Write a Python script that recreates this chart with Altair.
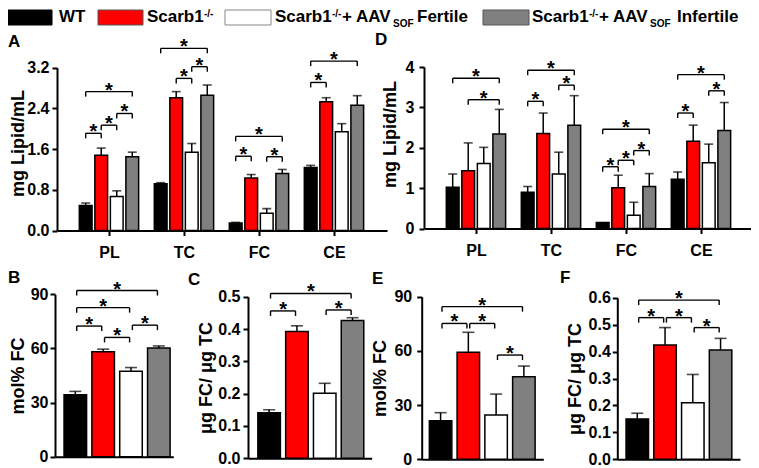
import altair as alt
import pandas as pd

FONT = "Liberation Sans"

# ---------------- data ----------------
GROUPS = ["PL", "TC", "FC", "CE"]
SERIES = ["WT", "Scarb1-/-", "Scarb1-/- + AAV-SOF Fertile", "Scarb1-/- + AAV-SOF Infertile"]
COLORS = ["#000000", "#ff0000", "#ffffff", "#808080"]

# Panel A: mg lipid / mL, rows = GROUPS, columns = SERIES
A_MEAN = [[0.49, 1.48, 0.67, 1.45],
          [0.92, 2.61, 1.54, 2.66],
          [0.145, 1.03, 0.34, 1.12],
          [1.24, 2.53, 1.94, 2.46]]
A_SEM = [[0.05, 0.14, 0.11, 0.09],
         [0.02, 0.12, 0.17, 0.20],
         [0.015, 0.07, 0.09, 0.08],
         [0.04, 0.08, 0.16, 0.19]]
# (group, bar i, bar j, bracket level)
A_SIG = [(0, 0, 1, 1.91), (0, 1, 2, 2.07), (0, 2, 3, 2.30), (0, 0, 3, 2.73),
         (1, 1, 2, 2.99), (1, 2, 3, 3.22), (1, 0, 3, 3.58),
         (2, 0, 1, 1.46), (2, 2, 3, 1.45), (2, 0, 3, 1.85),
         (3, 0, 1, 2.91), (3, 0, 3, 3.33)]

# Panel D: mg lipid / mL
D_MEAN = [[1.02, 1.43, 1.61, 2.34],
          [0.90, 2.35, 1.35, 2.56],
          [0.15, 1.01, 0.33, 1.04],
          [1.22, 2.16, 1.63, 2.43]]
D_SEM = [[0.33, 0.69, 0.40, 0.61],
         [0.14, 0.51, 0.54, 0.73],
         [0.0, 0.31, 0.32, 0.32],
         [0.18, 0.40, 0.46, 0.69]]
D_SIG = [(0, 0, 3, 3.72), (0, 1, 3, 3.19),
         (1, 0, 1, 3.15), (1, 2, 3, 3.55), (1, 0, 3, 3.92),
         (2, 0, 1, 1.53), (2, 1, 2, 1.69), (2, 2, 3, 1.93), (2, 0, 3, 2.46),
         (3, 0, 1, 2.86), (3, 2, 3, 3.41), (3, 0, 3, 3.81)]

# Panels B, E: mol% FC ; panels C, F: ug FC / ug TC
B_MEAN = [34.3, 58.1, 47.3, 60.3]
B_SEM = [1.9, 1.5, 2.1, 1.1]
B_SIG = [(0, 1, 72.4), (1, 2, 66.1), (2, 3, 72.9), (0, 2, 82.6), (0, 3, 92.1)]

C_MEAN = [0.141, 0.392, 0.201, 0.426]
C_SEM = [0.009, 0.018, 0.031, 0.009]
C_SIG = [(0, 1, 0.456), (2, 3, 0.459), (0, 3, 0.510)]

E_MEAN = [21.4, 59.2, 24.5, 45.7]
E_SEM = [4.4, 11.1, 11.6, 5.9]
E_SIG = [(0, 1, 75.2), (1, 2, 75.2), (2, 3, 57.7), (0, 3, 84.5)]

F_MEAN = [0.150, 0.424, 0.210, 0.406]
F_SEM = [0.021, 0.065, 0.105, 0.043]
F_SIG = [(0, 1, 0.526), (1, 2, 0.526), (2, 3, 0.489), (0, 3, 0.591)]

# ---------------- layout ----------------
W, H = 743, 459
PITCH = 0.207      # spacing of bars inside a group (A, D)
HW_G = 0.085       # half bar width, grouped panels
HW_S = 0.405       # half bar width, single panels
INSET_S = 0.05     # bracket end inset, single panels

PANELS = {
    "A": dict(xr=[49, 379], xd=[-0.693, 3.707], yr=[222.5, 59.7], yd=[0, 3.2],
              yt=[0, 0.8, 1.6, 2.4, 3.2], fmt=".1f", title="mg Lipid/mL", tx=-38.5, ty=135, lp=3, cap=9),
    "D": dict(xr=[416, 743], xd=[-0.693, 3.667], yr=[220.5, 59], yd=[0, 4],
              yt=[0, 1, 2, 3, 4], fmt="d", title="mg Lipid/mL", tx=-34, ty=126, lp=5, cap=9),
    "B": dict(xr=[47, 165.3], xd=[-0.73, 3.52], yr=[448.7, 286.3], yd=[0, 90],
              yt=[0, 30, 60, 90], fmt="d", title="mol% FC", tx=-36.5, ty=None, lp=2, cap=12),
    "C": dict(xr=[240, 363.7], xd=[-0.76, 3.69], yr=[450.3, 288.7], yd=[0, 0.5],
              yt=[0, 0.1, 0.2, 0.3, 0.4, 0.5], fmt=".1f", title="μg FC/ μg TC", tx=-41.5, ty=None, lp=3, cap=12),
    "E": dict(xr=[413.7, 535.3], xd=[-0.68, 3.70], yr=[451.3, 288.7], yd=[0, 90],
              yt=[0, 30, 60, 90], fmt="d", title="mol% FC", tx=-41, ty=None, lp=5, cap=12),
    "F": dict(xr=[609.3, 732], xd=[-0.72, 3.70], yr=[451.3, 289.7], yd=[0, 0.6],
              yt=[0, 0.1, 0.2, 0.3, 0.4, 0.5, 0.6], fmt=".1f", title="μg FC/ μg TC", tx=-42, ty=None, lp=2, cap=12),
}

fill_scale = alt.Scale(domain=SERIES, range=COLORS)
label_expr = "[" + ",".join("'%s'" % g for g in GROUPS) + "][datum.value]"


def panel(name, means, sems, sig, grouped):
    cfg = PANELS[name]
    bars, brs, ends = [], [], []
    if grouped:
        pos = {}
        for g in range(len(GROUPS)):
            for i, s in enumerate(SERIES):
                xc = g + (i - 1.5) * PITCH
                pos[(g, i)] = xc
                bars.append(dict(series=s, xc=xc, x0=xc - HW_G, x1=xc + HW_G,
                                 mean=means[g][i], top=means[g][i] + sems[g][i],
                                 sem=sems[g][i], zero=0))
        for g, i, j, lev in sig:
            a, b = pos[(g, i)], pos[(g, j)]
            brs.append(dict(xl=a, xr=b, xm=(a + b) / 2, lev=lev))
            ends += [dict(xe=a, lev=lev), dict(xe=b, lev=lev)]
    else:
        for i, s in enumerate(SERIES):
            bars.append(dict(series=s, xc=i, x0=i - HW_S, x1=i + HW_S,
                             mean=means[i], top=means[i] + sems[i], sem=sems[i], zero=0))
        for i, j, lev in sig:
            a, b = i + INSET_S, j - INSET_S
            brs.append(dict(xl=a, xr=b, xm=(a + b) / 2, lev=lev))
            ends += [dict(xe=a, lev=lev), dict(xe=b, lev=lev)]

    dfb = pd.DataFrame(bars)
    dfe = dfb[dfb["sem"] > 0]
    dfbr = pd.DataFrame(brs)
    dfen = pd.DataFrame(ends)

    def xs():
        return alt.Scale(domain=cfg["xd"], range=cfg["xr"], nice=False, zero=False)

    def ys():
        return alt.Scale(domain=cfg["yd"], range=cfg["yr"], nice=False, zero=False)

    if grouped:
        xaxis = alt.Axis(orient="bottom", offset=cfg["yr"][0] - H, values=[0, 1, 2, 3],
                         labelExpr=label_expr, tickSize=5, tickWidth=2, domainWidth=2,
                         labelPadding=9, labelFontSize=16, labelFontWeight="bold",
                         labelFlush=False, labelOverlap=False, title=None, grid=False)
    else:
        xaxis = alt.Axis(orient="bottom", offset=cfg["yr"][0] - H, ticks=False, labels=False,
                         domainWidth=2, title=None, grid=False)
    yargs = dict(orient="left", offset=-cfg["xr"][0], values=cfg["yt"], format=cfg["fmt"],
                 tickSize=5, tickWidth=2, domainWidth=2, labelPadding=cfg["lp"],
                 labelFontSize=16, labelFontWeight="bold", title=cfg["title"],
                 titleFontSize=18, titleFontWeight="bold", titleAngle=270,
                 titleBaseline="middle", titleX=cfg["tx"], grid=False, labelFlush=False)
    if cfg["ty"] is not None:
        yargs["titleY"] = cfg["ty"]
    yaxis = alt.Axis(**yargs)

    bar_layer = alt.Chart(dfb).mark_bar(stroke="black", strokeWidth=1.5).encode(
        x=alt.X("x0:Q", scale=xs(), axis=xaxis), x2="x1:Q",
        y=alt.Y("mean:Q", scale=ys(), axis=yaxis), y2="zero:Q",
        fill=alt.Fill("series:N", scale=fill_scale, legend=None))
    err_rule = alt.Chart(dfe).mark_rule(color="black", strokeWidth=1.5).encode(
        x=alt.X("xc:Q", scale=xs(), axis=None),
        y=alt.Y("mean:Q", scale=ys(), axis=None), y2="top:Q")
    err_cap = alt.Chart(dfe).mark_tick(orient="horizontal", size=cfg["cap"], thickness=1.6,
                                       color="black").encode(
        x=alt.X("xc:Q", scale=xs(), axis=None), y=alt.Y("top:Q", scale=ys(), axis=None))
    br_h = alt.Chart(dfbr).mark_rule(color="black", strokeWidth=1.4).encode(
        x=alt.X("xl:Q", scale=xs(), axis=None), x2="xr:Q",
        y=alt.Y("lev:Q", scale=ys(), axis=None))
    br_v = alt.Chart(dfen).mark_rule(color="black", strokeWidth=1.4, y2Offset=5).encode(
        x=alt.X("xe:Q", scale=xs(), axis=None),
        y=alt.Y("lev:Q", scale=ys(), axis=None), y2="lev:Q")
    stars = alt.Chart(dfbr).mark_text(text="*", fontSize=20, fontWeight="bold", font=FONT,
                                      baseline="alphabetic", dy=5, color="black").encode(
        x=alt.X("xm:Q", scale=xs(), axis=None), y=alt.Y("lev:Q", scale=ys(), axis=None))
    return [bar_layer, err_rule, err_cap, br_h, br_v, stars]


layers = []
layers += panel("A", A_MEAN, A_SEM, A_SIG, True)
layers += panel("D", D_MEAN, D_SEM, D_SIG, True)
layers += panel("B", B_MEAN, B_SEM, B_SIG, False)
layers += panel("C", C_MEAN, C_SEM, C_SIG, False)
layers += panel("E", E_MEAN, E_SEM, E_SIG, False)
layers += panel("F", F_MEAN, F_SEM, F_SIG, False)

# ---------------- legend (drawn as annotation) ----------------
sw_x = [(0, 44), (90, 135), (217, 263), (475, 521)]
sw_stroke = ["#000000", "#555555", "#888888", "#555555"]
sw_df = pd.DataFrame(dict(series=SERIES, px0=[a for a, b in sw_x], px1=[b for a, b in sw_x],
                          py0=[2] * 4, py1=[17] * 4, sc=sw_stroke))
swatches = alt.Chart(sw_df).mark_rect(strokeWidth=1).encode(
    x=alt.X("px0:Q", scale=None), x2="px1:Q",
    y=alt.Y("py0:Q", scale=None), y2="py1:Q",
    fill=alt.Fill("series:N", scale=fill_scale, legend=None),
    stroke=alt.Stroke("sc:N", scale=None))

big_txt = pd.DataFrame(dict(
    t=["WT", "Scarb1", "Scarb1", "+ AAV", "Fertile", "Scarb1", "+ AAV", "Infertile"],
    px=[51, 139, 267, 334, 409, 524, 591, 669],
    py=[14] * 8))
sup_txt = pd.DataFrame(dict(t=["-/-", "-/-", "-/-"], px=[196, 324, 581], py=[9] * 3))
sub_txt = pd.DataFrame(dict(t=["SOF", "SOF"], px=[385, 642], py=[19] * 2))
letters = pd.DataFrame(dict(t=["A", "D", "B", "C", "E", "F"],
                            px=[0, 367, 0, 180, 364, 552],
                            py=[39, 37, 275, 277, 276, 275]))


def txt_layer(df, size):
    return alt.Chart(df).mark_text(align="left", baseline="alphabetic", fontSize=size,
                                   fontWeight="bold", font=FONT, color="black").encode(
        x=alt.X("px:Q", scale=None), y=alt.Y("py:Q", scale=None), text="t:N")


layers += [swatches, txt_layer(big_txt, 17), txt_layer(sup_txt, 10), txt_layer(sub_txt, 10),
           txt_layer(letters, 17)]

chart = alt.layer(*layers).resolve_scale(
    x="independent", y="independent"
).resolve_axis(
    x="independent", y="independent"
).properties(
    width=W, height=H, autosize=alt.AutoSizeParams(type="none"), padding=0
).configure_view(stroke=None).configure_axis(
    domainColor="black", tickColor="black", labelColor="black", titleColor="black",
    labelFont=FONT, titleFont=FONT
)

chart.save("out.html", embed_options={"renderer": "svg", "actions": False})
